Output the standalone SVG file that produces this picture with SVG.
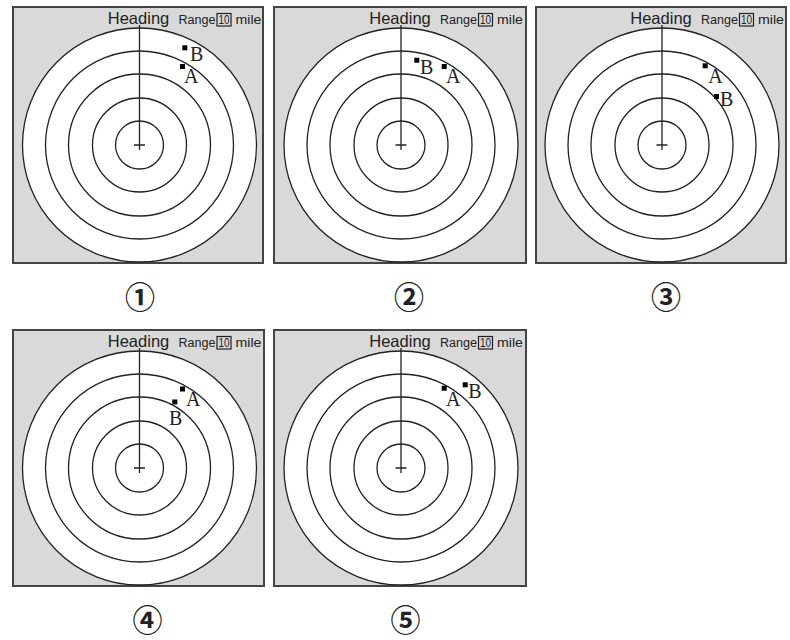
<svg xmlns="http://www.w3.org/2000/svg" width="790" height="640" viewBox="0 0 790 640">
<style>
.bg{fill:#ffffff}
.frame{fill:#d9d9d9;stroke:#444;stroke-width:2}
.outer{fill:#ffffff;stroke:#222;stroke-width:1.3}
.ring{fill:none;stroke:#222;stroke-width:1.3}
.ax{stroke:#222;stroke-width:1.3;fill:none}
.hd{font-family:"Liberation Sans",Arial,sans-serif;font-size:16.5px;fill:#222;text-anchor:middle}
.rg{font-family:"Liberation Sans",Arial,sans-serif;font-size:12px;fill:#222}
.tn{font-family:"Liberation Sans",Arial,sans-serif;font-size:12.5px;fill:#222;text-anchor:middle}
.rb{fill:none;stroke:#222;stroke-width:1.2}
.tg{fill:#000}
.lt{font-family:"Liberation Serif","Times New Roman",serif;font-size:20px;fill:#222}
.num{font-family:"Noto Sans CJK JP","DejaVu Sans",sans-serif;font-size:30px;font-weight:bold;fill:#222;text-anchor:middle}
</style>
<rect class="bg" x="0" y="0" width="790" height="640"/>

<g id="panel1">
<rect class="frame" x="13" y="7" width="250" height="256"/>
<circle class="outer" cx="139.5" cy="145" r="117"/>
<circle class="ring" cx="139.5" cy="145" r="94"/>
<circle class="ring" cx="139.5" cy="145" r="71"/>
<circle class="ring" cx="139.5" cy="145" r="47"/>
<circle class="ring" cx="139.5" cy="145" r="24"/>
<path class="ax" d="M139.5 25V150M134 145H145"/>
<text class="hd" x="138.5" y="23.5">Heading</text>
<text class="rg" x="178.5" y="24" textLength="37" lengthAdjust="spacingAndGlyphs">Range</text>
<rect class="rb" x="217" y="13.5" width="14" height="12.5"/>
<text class="tn" x="224" y="24.3" textLength="11" lengthAdjust="spacingAndGlyphs">10</text>
<text class="rg" x="235.5" y="24" textLength="26" lengthAdjust="spacingAndGlyphs">mile</text>
<rect class="tg" x="182.3" y="45.3" width="5" height="5"/>
<text class="lt" x="190" y="61">B</text>
<rect class="tg" x="180" y="64" width="5" height="5"/>
<text class="lt" x="184" y="83">A</text>
<text class="num" x="140" y="308">①</text>
</g>

<g id="panel2">
<rect class="frame" x="274" y="7" width="252" height="256"/>
<circle class="outer" cx="401" cy="145" r="117"/>
<circle class="ring" cx="401" cy="145" r="94"/>
<circle class="ring" cx="401" cy="145" r="71"/>
<circle class="ring" cx="401" cy="145" r="47"/>
<circle class="ring" cx="401" cy="145" r="24"/>
<path class="ax" d="M401 25V150M395.5 145H406.5"/>
<text class="hd" x="400" y="23.5">Heading</text>
<text class="rg" x="440" y="24" textLength="37" lengthAdjust="spacingAndGlyphs">Range</text>
<rect class="rb" x="478.5" y="13.5" width="14" height="12.5"/>
<text class="tn" x="485.5" y="24.3" textLength="11" lengthAdjust="spacingAndGlyphs">10</text>
<text class="rg" x="497" y="24" textLength="26" lengthAdjust="spacingAndGlyphs">mile</text>
<rect class="tg" x="414.3" y="57.7" width="5" height="5"/>
<text class="lt" x="420" y="74">B</text>
<rect class="tg" x="441.7" y="64" width="5" height="5"/>
<text class="lt" x="446" y="83">A</text>
<text class="num" x="409" y="308">②</text>
</g>

<g id="panel3">
<rect class="frame" x="536" y="7" width="250" height="256"/>
<circle class="outer" cx="662" cy="145" r="117"/>
<circle class="ring" cx="662" cy="145" r="94"/>
<circle class="ring" cx="662" cy="145" r="71"/>
<circle class="ring" cx="662" cy="145" r="47"/>
<circle class="ring" cx="662" cy="145" r="24"/>
<path class="ax" d="M662 25V150M656.5 145H667.5"/>
<text class="hd" x="661" y="23.5">Heading</text>
<text class="rg" x="701" y="24" textLength="37" lengthAdjust="spacingAndGlyphs">Range</text>
<rect class="rb" x="739.5" y="13.5" width="14" height="12.5"/>
<text class="tn" x="746.5" y="24.3" textLength="11" lengthAdjust="spacingAndGlyphs">10</text>
<text class="rg" x="758" y="24" textLength="26" lengthAdjust="spacingAndGlyphs">mile</text>
<rect class="tg" x="702.7" y="63.3" width="5" height="5"/>
<text class="lt" x="708.3" y="83">A</text>
<rect class="tg" x="714" y="94" width="5" height="5"/>
<text class="lt" x="720" y="106">B</text>
<text class="num" x="666" y="308">③</text>
</g>

<g id="panel4">
<rect class="frame" x="13" y="330" width="251" height="256"/>
<circle class="outer" cx="139.5" cy="468" r="117"/>
<circle class="ring" cx="139.5" cy="468" r="94"/>
<circle class="ring" cx="139.5" cy="468" r="71"/>
<circle class="ring" cx="139.5" cy="468" r="47"/>
<circle class="ring" cx="139.5" cy="468" r="24"/>
<path class="ax" d="M139.5 348V473M134 468H145"/>
<text class="hd" x="138.5" y="346.5">Heading</text>
<text class="rg" x="178.5" y="347" textLength="37" lengthAdjust="spacingAndGlyphs">Range</text>
<rect class="rb" x="217" y="336.5" width="14" height="12.5"/>
<text class="tn" x="224" y="347.3" textLength="11" lengthAdjust="spacingAndGlyphs">10</text>
<text class="rg" x="235.5" y="347" textLength="26" lengthAdjust="spacingAndGlyphs">mile</text>
<rect class="tg" x="180" y="386.5" width="5" height="5"/>
<text class="lt" x="186" y="406">A</text>
<rect class="tg" x="172.3" y="399.5" width="5" height="5"/>
<text class="lt" x="169" y="424.5">B</text>
<text class="num" x="147.5" y="630.5">④</text>
</g>

<g id="panel5">
<rect class="frame" x="274" y="330" width="252" height="256"/>
<circle class="outer" cx="401" cy="468" r="117"/>
<circle class="ring" cx="401" cy="468" r="94"/>
<circle class="ring" cx="401" cy="468" r="71"/>
<circle class="ring" cx="401" cy="468" r="47"/>
<circle class="ring" cx="401" cy="468" r="24"/>
<path class="ax" d="M401 348V473M395.5 468H406.5"/>
<text class="hd" x="400" y="346.5">Heading</text>
<text class="rg" x="440" y="347" textLength="37" lengthAdjust="spacingAndGlyphs">Range</text>
<rect class="rb" x="478.5" y="336.5" width="14" height="12.5"/>
<text class="tn" x="485.5" y="347.3" textLength="11" lengthAdjust="spacingAndGlyphs">10</text>
<text class="rg" x="497" y="347" textLength="26" lengthAdjust="spacingAndGlyphs">mile</text>
<rect class="tg" x="441.7" y="385.7" width="5" height="5"/>
<text class="lt" x="446" y="405.7">A</text>
<rect class="tg" x="462.7" y="382.3" width="5" height="5"/>
<text class="lt" x="468.3" y="398.3">B</text>
<text class="num" x="405.5" y="630.5">⑤</text>
</g>

<g id="connectors"></g>
</svg>
